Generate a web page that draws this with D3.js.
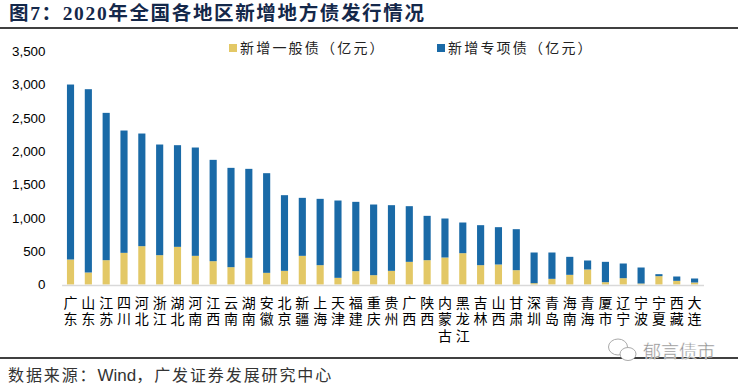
<!DOCTYPE html>
<html>
<head>
<meta charset="utf-8">
<script src="https://cdn.jsdelivr.net/npm/d3@7"></script>
<style>
body { margin: 0; background: #fff; }
svg { display: block; }
</style>
</head>
<body>
<div id="chart"></div>
<script>
var regions = ['广东','山东','江苏','四川','河北','浙江','湖北','河南','江西','云南','湖南','安徽','北京','新疆','上海','天津','福建','重庆','贵州','广西','陕西','内蒙古','黑龙江','吉林','山西','甘肃','深圳','青岛','海南','青海','厦市','辽宁','宁波','宁夏','西藏','大连'];
var general = [375,180,365,475,575,440,565,430,350,260,400,175,205,430,290,100,200,140,205,340,365,405,470,290,300,215,20,85,145,225,35,95,15,125,55,30];
var special = [2625,2750,2210,1835,1690,1660,1525,1625,1520,1490,1335,1495,1135,870,995,1160,1040,1060,985,835,665,585,460,600,560,615,460,395,270,135,305,220,240,30,65,60];
var y_ticks = [0,500,1000,1500,2000,2500,3000,3500];

var width = 738, height = 384;
var cjk = '"Noto Sans CJK SC", sans-serif';
var serif = '"Liberation Serif", "Noto Sans CJK SC", serif';
var blue = '#1a6aa7', yellow = '#e3c866';

var svg = d3.select('#chart').append('svg')
    .attr('width', width)
    .attr('height', height);

// title and the two rules
svg.append('text')
    .attr('x', 9).attr('y', 20)
    .style('font-family', serif)
    .style('font-size', '19.5px')
    .style('font-weight', 'bold')
    .style('letter-spacing', '1.65px')
    .style('fill', '#14284a')
    .text('图7：2020年全国各地区新增地方债发行情况');

svg.append('line').attr('x1', 0).attr('x2', width).attr('y1', 28).attr('y2', 28)
    .attr('stroke', '#000').attr('stroke-width', 1.5);
svg.append('line').attr('x1', 0).attr('x2', width).attr('y1', 358).attr('y2', 358)
    .attr('stroke', '#000').attr('stroke-width', 1.5);

// scales
var x_scale = d3.scaleBand()
    .domain(regions)
    .range([61.6, 703.5])
    .paddingInner(0.6)
    .paddingOuter(0.3);

var y_scale = d3.scaleLinear()
    .domain([0, 3500])
    .range([284.5, 51.2]);

// y axis
var y_axis = d3.axisLeft(y_scale)
    .tickValues(y_ticks)
    .tickSize(0)
    .tickPadding(0)
    .tickFormat(d3.format(','));

var y_g = svg.append('g')
    .attr('transform', 'translate(45.5,0)')
    .call(y_axis);
y_g.select('.domain').remove();
y_g.selectAll('text')
    .style('font-family', '"Liberation Sans", sans-serif')
    .style('font-size', '13.4px')
    .style('fill', '#000');

// bars
var rows = regions.map(function(r, i) {
    return {region: r, general: general[i], special: special[i]};
});
var stack = d3.stack().keys(['general', 'special'])(rows);
var colors = {general: yellow, special: blue};

svg.selectAll('g.layer')
    .data(stack)
    .enter().append('g')
    .attr('class', 'layer')
    .attr('fill', function(d) { return colors[d.key]; })
    .selectAll('rect')
    .data(function(d) { return d; })
    .enter().append('rect')
    .attr('x', function(d) { return x_scale(d.data.region); })
    .attr('width', x_scale.bandwidth())
    .attr('y', function(d) { return y_scale(d[1]); })
    .attr('height', function(d) { return y_scale(d[0]) - y_scale(d[1]); });

// x axis, labels stacked one character per line
var x_axis = d3.axisBottom(x_scale).tickSize(0).tickFormat('');
var x_g = svg.append('g')
    .attr('transform', 'translate(0,285)')
    .call(x_axis);
x_g.select('.domain').attr('stroke', '#d9d9d9').attr('stroke-width', 1.5);
x_g.selectAll('.tick text').remove();
x_g.selectAll('.tick')
    .append('text')
    .attr('text-anchor', 'middle')
    .style('font-family', cjk)
    .style('font-size', '14px')
    .style('fill', '#000')
    .selectAll('tspan')
    .data(function(d) { return d.split(''); })
    .enter().append('tspan')
    .attr('x', 0)
    .attr('y', function(d, i) { return 23 + i * 16.4; })
    .text(function(d) { return d; });

// legend
var legend_items = [
    {label: '新增一般债（亿元）', color: yellow, x: 229},
    {label: '新增专项债（亿元）', color: blue, x: 437}
];
var legend = svg.selectAll('g.legend')
    .data(legend_items)
    .enter().append('g')
    .attr('class', 'legend')
    .attr('transform', function(d) { return 'translate(' + d.x + ',44)'; });
legend.append('rect')
    .attr('width', 8).attr('height', 8)
    .attr('fill', function(d) { return d.color; });
legend.append('text')
    .attr('x', 11).attr('y', 9)
    .style('font-family', cjk)
    .style('font-size', '14px')
    .style('letter-spacing', '2.2px')
    .style('fill', '#222')
    .text(function(d) { return d.label; });

// source
var source = svg.append('text')
    .attr('x', 8).attr('y', 380.5)
    .style('font-family', cjk)
    .style('font-size', '16px')
    .style('letter-spacing', '1.9px')
    .style('fill', '#333');
source.append('tspan').text('数据来源：');
source.append('tspan')
    .style('font-family', '"Liberation Sans", sans-serif')
    .style('font-size', '17px')
    .style('letter-spacing', '0')
    .text('Wind');
source.append('tspan').text('，广发证券发展研究中心');

// watermark
var mark = svg.append('g').attr('fill', '#fff').attr('stroke', '#aaa').attr('stroke-width', 1);
mark.append('ellipse').attr('cx', 618).attr('cy', 347).attr('rx', 9.5).attr('ry', 8);
mark.append('ellipse').attr('cx', 628).attr('cy', 354).attr('rx', 8).attr('ry', 6.5);
svg.append('text')
    .attr('x', 643).attr('y', 358)
    .style('font-family', cjk)
    .style('font-size', '18px')
    .style('fill', '#8c8c8c')
    .style('stroke', '#fff')
    .style('stroke-width', '0.4px')
    .text('郁言债市');
</script>
</body>
</html>
